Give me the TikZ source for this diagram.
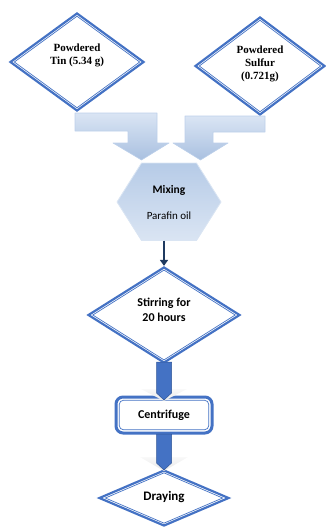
\documentclass[tikz,border=0pt]{standalone}
\usepackage{fontspec}
\setmainfont{Liberation Serif}
\newfontfamily\calfont{Carlito}
\usetikzlibrary{shapes.geometric,arrows.meta}
\definecolor{bord}{HTML}{4472C4}
\definecolor{bordd}{HTML}{2F5597}
\definecolor{navy}{HTML}{1F3A60}
\definecolor{lbA}{HTML}{DAE5F4}
\definecolor{lbB}{HTML}{A9C0E0}
\definecolor{lbE}{HTML}{BDD0EA}
\definecolor{hxA}{HTML}{B6CBE7}
\definecolor{hxB}{HTML}{DAE5F3}
\tikzset{
  dia/.style={diamond, draw=bord, line width=2.2pt, fill=white, inner sep=0pt},
  diain/.style={diamond, draw=bord, line width=0.7pt, inner sep=0pt},
  serlab/.style={font=\fontsize{11}{13}\selectfont\bfseries, align=center, inner sep=0pt},
  callab/.style={font=\calfont\fontsize{12}{14.5}\selectfont\bfseries, align=center, inner sep=0pt},
  bentarrow/.style={top color=lbA, bottom color=lbB, draw=lbE, line width=0.6pt, line join=round},
  hexfill/.style={top color=hxA, bottom color=hxB, draw=hxB, line width=0.8pt},
  bluestem/.style={fill=bord, draw=bordd, line width=0.5pt},
  grayhead/.style={top color=white!95!gray, bottom color=white!82!gray, draw=none},
  darr/.style={draw=navy, line width=2.2pt, -{Triangle[width=8pt,length=6pt]}}
}
\begin{document}
\begin{tikzpicture}[x=1pt,y=-1pt]
\useasboundingbox (0,0) rectangle (326,528);

% top diamonds
\node[dia, minimum width=134pt, minimum height=98pt] (tin) at (77,62) {};
\node[diain, minimum width=125.6pt, minimum height=91.8pt] (tinIn) at (77,62) {};
\node[serlab] (tinT) at (77,55) {Powdered\\Tin (5.34 g)};

\node[dia, minimum width=130pt, minimum height=98pt] (sul) at (260,66) {};
\node[diain, minimum width=121.7pt, minimum height=91.7pt] (sulIn) at (260,66) {};
\node[serlab] (sulT) at (260,64) {Powdered\\Sulfur\\(0.721g)};

% bent arrows
\path[bentarrow] (75,113) -- (157,113) -- (157,143) -- (169,143) -- (141.5,160)
  -- (113,143) -- (128,143) -- (128,131) -- (75,131) -- cycle;
\path[bentarrow] (265,116) -- (185,116) -- (185,143) -- (173,143) -- (200.5,160)
  -- (228,143) -- (213,143) -- (213,132) -- (265,132) -- cycle;

% hexagon
\path[hexfill] (141.5,163) -- (196.5,163) -- (221,202) -- (196.5,240.5)
  -- (141.5,240.5) -- (117,202) -- cycle;
\node[minimum width=104pt, minimum height=77pt, inner sep=0pt] (mix) at (169,202) {};
\node[font=\calfont\fontsize{11.5}{13}\selectfont\bfseries, inner sep=0pt] (mixT) at (169,190) {Mixing};
\node[font=\calfont\fontsize{11}{13}\selectfont, inner sep=0pt] (oilT) at (169,216) {Parafin oil};

% stirring diamond
\node[dia, minimum width=152pt, minimum height=96pt] (stir) at (164,315) {};
\node[diain, minimum width=142.6pt, minimum height=90.1pt] (stirIn) at (164,315) {};
\node[callab] (stirT) at (164,310) {Stirring for\\20 hours};

\draw[darr] (stir.north |- mix.south) -- (stir.north);

% centrifuge
\node[draw=bord, line width=3pt, rounded corners=7pt, fill=white,
      minimum width=96pt, minimum height=36pt, inner sep=0pt] (cen) at (164,415) {};
\node[draw=bord, line width=0.7pt, rounded corners=4pt,
      minimum width=89.4pt, minimum height=29.4pt, inner sep=0pt] (cenIn) at (164,415) {};
\node[callab] (cenT) at (164,415) {Centrifuge};

% block arrow stirring -> centrifuge
\path[grayhead] (141,389) -- (187,389) -- (164,401) -- cycle;
\path[bluestem] (156.5,362) -- (171.5,362) -- (171.5,393) -- (164,400) -- (156.5,393) -- cycle;

% drying diamond
\node[dia, minimum width=130pt, minimum height=56pt] (dry) at (164,498) {};
\node[diain, minimum width=117.4pt, minimum height=50.6pt] (dryIn) at (164,498) {};
\node[font=\calfont\fontsize{13}{15}\selectfont\bfseries, inner sep=0pt] (dryT) at (164,497) {Draying};

% block arrow centrifuge -> drying
\path[grayhead] (140,457) -- (188,457) -- (164,471) -- cycle;
\path[bluestem] (156.5,434) -- (171.5,434) -- (171.5,463) -- (164,470) -- (156.5,463) -- cycle;
\end{tikzpicture}
\end{document}
